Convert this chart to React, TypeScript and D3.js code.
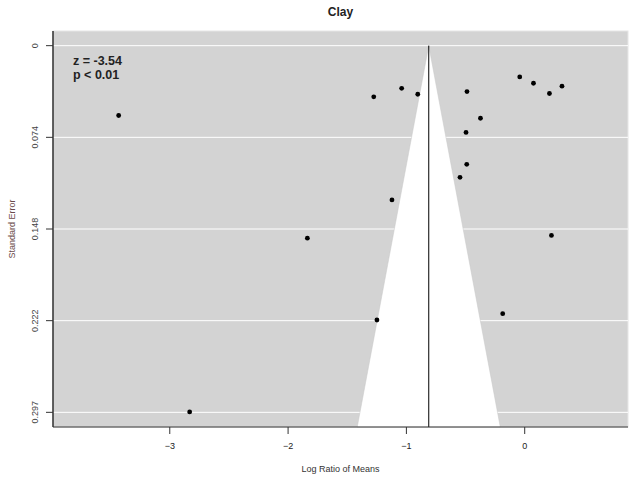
import React from "react";
import * as d3 from "d3";

const logRatio = [-3.432, -1.837, -2.832, -1.276, -1.04, -0.904, -0.488, -0.042, 0.074, 0.209, 0.315, -0.374, -0.496, -0.49, -0.547, -1.122, 0.226, -1.249, -0.186];
const stdErr = [0.0565, 0.1557, 0.2963, 0.0414, 0.0345, 0.0393, 0.0371, 0.0253, 0.0304, 0.0387, 0.0328, 0.0587, 0.0702, 0.096, 0.1065, 0.1248, 0.1535, 0.2219, 0.2168];
const xTicks = [-3, -2, -1, 0];
const yTicks = [0, 0.07415, 0.1483, 0.22245, 0.2966];
const yTickLabels = ["0", "0.074", "0.148", "0.222", "0.297"];
const pooledMean = -0.811;
const annotation = ["z = -3.54", "p < 0.01"];

const W = 630;
const H = 479;
const left = 53, right = 628, top = 31, bottom = 427;

export default function App() {
  const x = d3.scaleLinear().domain([-3.987, 0.873]).range([left, right]);
  const y = d3.scaleLinear().domain([-0.01186, 0.30846]).range([top, bottom]);
  const seB = y.domain()[1];
  const funnel = [
    [pooledMean, 0],
    [pooledMean - 1.96 * seB, seB],
    [pooledMean + 1.96 * seB, seB],
  ];
  const funnelPath = d3.line<number[]>().x((d) => x(d[0])).y((d) => y(d[1]))(funnel) + "Z";
  const font = "'Liberation Sans', Arial, Helvetica, sans-serif";
  return (
    <svg width={W} height={H} style={{ position: "absolute", left: 0, top: 0 }} fontFamily={font}>
      <rect x={left} y={top} width={right - left} height={bottom - top} fill="#d3d3d3" stroke="#e6e6e6" strokeWidth={1} />
      {yTicks.map((t, i) => (
        <line key={"g" + i} x1={left} x2={right} y1={y(t)} y2={y(t)} stroke="#ffffff" strokeWidth={1} />
      ))}
      <path d={funnelPath} fill="#ffffff" stroke="#c8c8c8" strokeWidth={0.5} />
      <line x1={x(pooledMean)} x2={x(pooledMean)} y1={y(0)} y2={bottom} stroke="#000" strokeWidth={1} />
      {logRatio.map((v, i) => (
        <circle key={"p" + i} cx={x(v)} cy={y(stdErr[i])} r={2.4} fill="#000" />
      ))}
      <line x1={left} x2={left} y1={top} y2={bottom} stroke="#000" strokeWidth={1.2} />
      <line x1={left} x2={right} y1={bottom} y2={bottom} stroke="#333" strokeWidth={1.2} />
      {yTicks.map((t, i) => (
        <g key={"yt" + i}>
          <line x1={left - 7} x2={left} y1={y(t)} y2={y(t)} stroke="#333" strokeWidth={1} />
          <text
            transform={`translate(${left - 18},${y(t)}) rotate(-90)`}
            textAnchor="middle"
            dy="0.35em"
            fontSize={9}
            fill="#444"
          >
            {yTickLabels[i]}
          </text>
        </g>
      ))}
      {xTicks.map((t, i) => (
        <g key={"xt" + i}>
          <line x1={x(t)} x2={x(t)} y1={bottom} y2={bottom + 7} stroke="#333" strokeWidth={1} />
          <text x={x(t)} y={449} textAnchor="middle" fontSize={9} fill="#222">
            {t < 0 ? "\u2212" + Math.abs(t) : String(t)}
          </text>
        </g>
      ))}
      <text x={(left + right) / 2} y={472} textAnchor="middle" fontSize={9} fill="#333">
        Log Ratio of Means
      </text>
      <text transform={`translate(15,${(top + bottom) / 2}) rotate(-90)`} textAnchor="middle" fontSize={9} fill="#6a4a4a">
        Standard Error
      </text>
      <text x={(left + right) / 2} y={16} textAnchor="middle" fontSize={12} fontWeight="bold" fill="#222">
        Clay
      </text>
      {annotation.map((s, i) => (
        <text key={"a" + i} x={73} y={64.5 + i * 14} fontSize={12.5} fontWeight="bold" fill="#222">
          {s}
        </text>
      ))}
    </svg>
  );
}
